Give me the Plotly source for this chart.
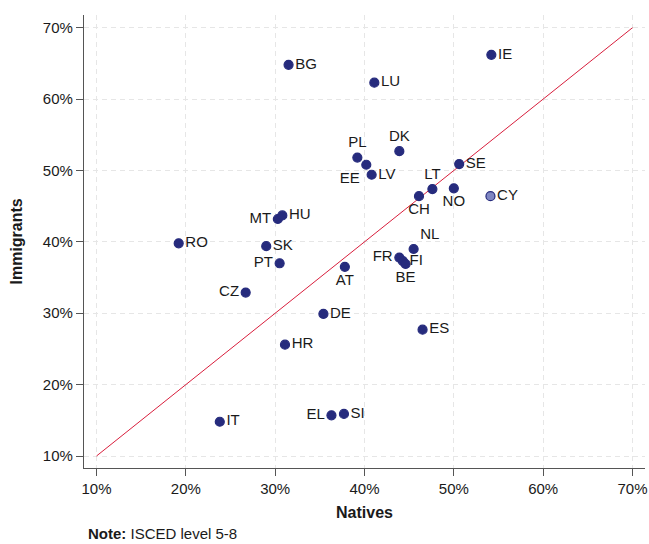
import plotly.graph_objects as go

countries = ["BG", "RO", "MT", "HU", "SK", "PT", "CZ", "DE", "HR", "IT", "EL", "SI", "ES", "AT",
             "IE", "LU", "PL", "EE", "LV", "DK", "SE", "LT", "CH", "NO", "NL", "FR", "FI", "BE", "CY"]
natives = [31.5, 19.2, 30.3, 30.8, 29.0, 30.5, 26.7, 35.4, 31.1, 23.8, 36.3, 37.7, 46.5, 37.8,
           54.2, 41.1, 39.2, 40.2, 40.8, 43.9, 50.6, 47.6, 46.1, 50.0, 45.5, 43.9, 44.3, 44.6, 54.1]
immigrants = [64.8, 39.8, 43.2, 43.7, 39.4, 37.0, 32.9, 29.9, 25.6, 14.8, 15.7, 15.9, 27.7, 36.5,
              66.2, 62.3, 51.8, 50.8, 49.4, 52.7, 50.9, 47.4, 46.4, 47.5, 39.0, 37.8, 37.3, 36.9, 46.4]
highlight = ["CY"]
tick_vals = [10, 20, 30, 40, 50, 60, 70]
tick_text = ["10%", "20%", "30%", "40%", "50%", "60%", "70%"]

label_pos = {
    "MT": "middle left", "PT": "middle left", "CZ": "middle left", "EL": "middle left",
    "FR": "middle left", "EE": "bottom left",
    "PL": "top center", "DK": "top center", "LT": "top center", "NL": "top right",
    "CH": "bottom center", "NO": "bottom center", "AT": "bottom center", "BE": "bottom center",
}

NAVY = "#262b7d"
FONT = "Liberation Sans, Arial, sans-serif"

fig = go.Figure()

fig.add_trace(go.Scatter(
    x=[tick_vals[0], tick_vals[-1]], y=[tick_vals[0], tick_vals[-1]],
    mode="lines", line=dict(color="#d81e3c", width=1), hoverinfo="skip", showlegend=False,
))

idx_main = [i for i, c in enumerate(countries) if c not in highlight]
idx_hl = [i for i, c in enumerate(countries) if c in highlight]

for idxs, fill in ((idx_main, NAVY), (idx_hl, "#7f86c2")):
    fig.add_trace(go.Scatter(
        x=[natives[i] for i in idxs],
        y=[immigrants[i] for i in idxs],
        text=[countries[i] for i in idxs],
        textposition=[label_pos.get(countries[i], "middle right") for i in idxs],
        mode="markers+text",
        marker=dict(size=9, color=fill, line=dict(color=NAVY, width=1.2)),
        textfont=dict(family=FONT, size=15, color="#1a1a1a"),
        showlegend=False,
        cliponaxis=False,
    ))

axis_common = dict(
    tickvals=tick_vals, ticktext=tick_text,
    showgrid=True, gridcolor="#e6e6e6", gridwidth=1, griddash="5px,4px",
    showline=True, linecolor="#555555", linewidth=1.3,
    ticks="outside", ticklen=7, tickwidth=1.2, tickcolor="#555555",
    tickfont=dict(family=FONT, size=15, color="#1a1a1a"),
    zeroline=False, mirror=False, automargin=False,
)

fig.update_layout(
    width=649, height=544,
    margin=dict(l=84, r=4, t=15, b=76),
    paper_bgcolor="white", plot_bgcolor="white",
    xaxis=dict(range=[8.6, 71.4], **axis_common),
    yaxis=dict(range=[8.32, 71.78], **axis_common),
    annotations=[
        dict(text="<b>Natives</b>", xref="paper", yref="paper", x=0.5, y=0,
             xanchor="center", yanchor="middle", yshift=-44, showarrow=False,
             font=dict(family=FONT, size=16, color="#1a1a1a")),
        dict(text="<b>Immigrants</b>", xref="paper", yref="paper", x=0, y=0.5,
             xanchor="center", yanchor="middle", xshift=-68, textangle=-90, showarrow=False,
             font=dict(family=FONT, size=16, color="#1a1a1a")),
        dict(text="<b>Note:</b> ISCED level 5-8", xref="paper", yref="paper", x=0, y=0,
             xanchor="left", yanchor="middle", xshift=2, yshift=-65, showarrow=False,
             font=dict(family=FONT, size=15, color="#1a1a1a")),
    ],
)

fig.write_html(
    "out.html",
    config={"displayModeBar": False},
    post_script="document.body.style.margin='0';document.body.style.padding='0';"
                "document.body.style.overflow='hidden';",
)
